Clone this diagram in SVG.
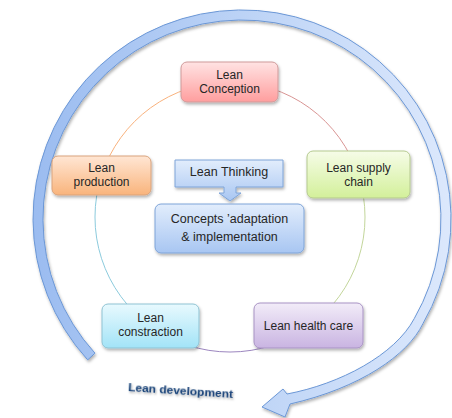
<svg xmlns="http://www.w3.org/2000/svg" width="452" height="418" viewBox="0 0 452 418">
<defs>
<linearGradient id="gPink" x1="0" y1="0" x2="0" y2="1"><stop offset="0" stop-color="#ffe3e3"/><stop offset="1" stop-color="#ff9e9e"/></linearGradient>
<linearGradient id="gOrange" x1="0" y1="0" x2="0" y2="1"><stop offset="0" stop-color="#ffe6d4"/><stop offset="1" stop-color="#f9b47c"/></linearGradient>
<linearGradient id="gGreen" x1="0" y1="0" x2="0" y2="1"><stop offset="0" stop-color="#f6fce8"/><stop offset="1" stop-color="#d3f09a"/></linearGradient>
<linearGradient id="gBlue" x1="0" y1="0" x2="0" y2="1"><stop offset="0" stop-color="#e2edfc"/><stop offset="1" stop-color="#a8c6f2"/></linearGradient>
<linearGradient id="gCyan" x1="0" y1="0" x2="0" y2="1"><stop offset="0" stop-color="#e8f9fe"/><stop offset="1" stop-color="#a2e3f7"/></linearGradient>
<linearGradient id="gPurple" x1="0" y1="0" x2="0" y2="1"><stop offset="0" stop-color="#f2ecf8"/><stop offset="1" stop-color="#c9b4e2"/></linearGradient>
<linearGradient id="gArrow" x1="0" y1="0" x2="1" y2="0"><stop offset="0" stop-color="#9bbcf0"/><stop offset="0.5" stop-color="#bcd3f6"/><stop offset="1" stop-color="#dce8fc"/></linearGradient>
<filter id="sh" x="-20%" y="-20%" width="140%" height="150%"><feDropShadow dx="1" dy="2" stdDeviation="1.5" flood-color="#000" flood-opacity="0.3"/></filter>
<filter id="tsh" x="-10%" y="-50%" width="120%" height="200%"><feDropShadow dx="1" dy="1.5" stdDeviation="1" flood-color="#000" flood-opacity="0.35"/></filter>
</defs>
<style>
.t{font-family:"Liberation Sans",Arial,sans-serif;font-size:12px;fill:#262626;text-anchor:middle}
.c{font-size:12.5px}
.box{stroke-width:1}
.arc{fill:none;stroke-width:1}
</style>
<rect width="452" height="418" fill="#ffffff"/>
<g id="lean-development-arrow" filter="url(#sh)">
<path d="M87.7,359.9 A209,209 0 1 1 423,323.5 C408,355 360,388 290,404 L285,417 L262,407 L283,389 L287,394 C340,384 395,355 414.3,318.5 A199,199 0 1 0 95,353.2 Z" fill="url(#gArrow)" stroke="#6b97d6" stroke-width="1"/>
</g>
<g id="connectors">
<path class="arc" d="M230,82 A135,135 0 0 1 358.4,175.3" stroke="#d99594"/>
<path class="arc" d="M358.4,175.3 A135,135 0 0 1 309.4,326.2" stroke="#c3d69b"/>
<path class="arc" d="M309.4,326.2 A135,135 0 0 1 150.6,326.2" stroke="#9c86bf"/>
<path class="arc" d="M150.6,326.2 A135,135 0 0 1 101.6,175.3" stroke="#8ccbdd"/>
<path class="arc" d="M101.6,175.3 A135,135 0 0 1 230,82" stroke="#f9b27d"/>
</g>
<g id="lean-conception">
<rect class="box" x="181" y="62" width="97" height="40" rx="6" fill="url(#gPink)" stroke="#cf9a9a" filter="url(#sh)"/>
<text class="t" x="229.5" y="79">Lean</text>
<text class="t" x="229.5" y="93">Conception</text>
</g>
<g id="lean-production">
<rect class="box" x="52" y="156" width="99" height="39" rx="6" fill="url(#gOrange)" stroke="#d9a37c" filter="url(#sh)"/>
<text class="t" x="101.5" y="172">Lean</text>
<text class="t" x="101.5" y="186">production</text>
</g>
<g id="lean-supply-chain">
<rect class="box" x="307" y="151" width="103" height="47" rx="6" fill="url(#gGreen)" stroke="#b5c98f" filter="url(#sh)"/>
<text class="t" x="358.5" y="172">Lean supply</text>
<text class="t" x="358.5" y="186">chain</text>
</g>
<g id="lean-thinking">
<path d="M175,160 H283 V187 H236 V193 H241 L230,201 L219,193 H224 V187 H175 Z" fill="url(#gBlue)" stroke="#7ea4d8" stroke-width="1" filter="url(#sh)"/>
<text class="t c" x="229" y="176">Lean Thinking</text>
</g>
<g id="concepts-adaptation">
<rect class="box" x="155" y="204" width="149" height="49" rx="6" fill="url(#gBlue)" stroke="#7ea4d8" filter="url(#sh)"/>
<text class="t c" x="229.5" y="223">Concepts ’adaptation</text>
<text class="t c" x="229.5" y="241">&amp; implementation</text>
</g>
<g id="lean-constraction">
<rect class="box" x="102" y="304" width="97" height="44" rx="6" fill="url(#gCyan)" stroke="#8fc3d3" filter="url(#sh)"/>
<text class="t" x="150.5" y="322">Lean</text>
<text class="t" x="150.5" y="336">constraction</text>
</g>
<g id="lean-health-care">
<rect class="box" x="254" y="303" width="109" height="45" rx="6" fill="url(#gPurple)" stroke="#a893c4" filter="url(#sh)"/>
<text class="t" x="308.5" y="330">Lean health care</text>
</g>
<text x="128" y="391" transform="rotate(3.8 128 391)" font-family="Liberation Sans,Arial,sans-serif" font-size="11.5" font-weight="bold" fill="#1b457a" textLength="105" lengthAdjust="spacingAndGlyphs" filter="url(#tsh)">Lean development</text>
</svg>
